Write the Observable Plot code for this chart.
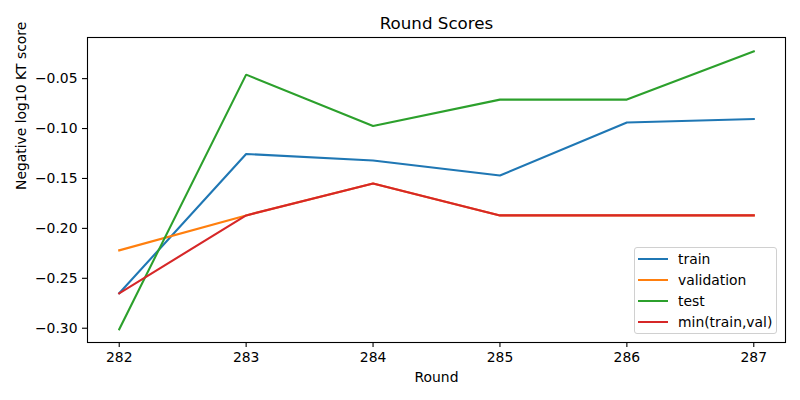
<!DOCTYPE html>
<html>
<head>
<meta charset="utf-8">
<script src="https://cdn.jsdelivr.net/npm/d3@7"></script>
<script src="https://cdn.jsdelivr.net/npm/@observablehq/plot@0.6"></script>
<style>
  html, body { margin: 0; padding: 0; background: #fff; }
  #wrap { position: relative; width: 800px; height: 400px; font-family: "DejaVu Sans", sans-serif; }
  #legend { position: absolute; left: 634px; top: 247px; width: 143px; height: 87px; border: 1px solid #d0d0d0; border-radius: 3px; background: rgba(255,255,255,0.8); box-sizing: border-box; }
  .row { position: absolute; left: 3px; height: 21px; display: flex; align-items: center; font-size: 13.9px; color: #000; white-space: nowrap; }
  .sw { display: inline-block; width: 30px; height: 2px; margin-right: 10px; }
</style>
</head>
<body>
<div id="wrap"></div>
<script>
const rounds = [282, 283, 284, 285, 286, 287];
const train = [-0.265, -0.1255, -0.132, -0.147, -0.094, -0.0905];
const validation = [-0.222, -0.187, -0.155, -0.187, -0.187, -0.187];
const test = [-0.301, -0.046, -0.0975, -0.071, -0.071, -0.0226];
const minTrainVal = [-0.265, -0.187, -0.155, -0.187, -0.187, -0.187];
const seriesNames = ["train", "validation", "test", "min(train,val)"];
const seriesColors = ["#1f77b4", "#ff7f0e", "#2ca02c", "#d62728"];
const yTicks = [-0.30, -0.25, -0.20, -0.15, -0.10, -0.05];

const seriesValues = [train, validation, test, minTrainVal];
const data = [];
seriesNames.forEach((name, i) => {
  rounds.forEach((r, j) => data.push({series: name, round: r, value: seriesValues[i][j]}));
});

const fontSize = "13.9px";
const chart = Plot.plot({
  width: 800,
  height: 400,
  marginLeft: 87,
  marginRight: 15,
  marginTop: 37,
  marginBottom: 58,
  style: {fontFamily: "DejaVu Sans, sans-serif", fontSize: fontSize, background: "white", color: "black"},
  x: {domain: [281.75, 287.25]},
  y: {domain: [-0.3143, -0.0088]},
  color: {domain: seriesNames, range: seriesColors},
  marks: [
    Plot.axisX({ticks: rounds, tickFormat: d => String(d), tickSize: 5, tickPadding: 5, label: null, fontSize: fontSize, strokeWidth: 1.1}),
    Plot.axisY({ticks: yTicks, tickFormat: d3.format(".2f"), tickSize: 5, tickPadding: 5, label: null, fontSize: fontSize, strokeWidth: 1.1}),
    Plot.line(data, {x: "round", y: "value", z: "series", stroke: "series", strokeWidth: 2.1, strokeLinejoin: "miter", strokeLinecap: "square"}),
    Plot.frame({stroke: "black", strokeWidth: 1.1}),
    Plot.text(["Round Scores"], {frameAnchor: "top", dy: -14, lineAnchor: "middle", fontSize: "16.7px"}),
    Plot.text(["Round"], {frameAnchor: "bottom", dy: 35, lineAnchor: "middle", fontSize: fontSize}),
    Plot.text(["Negative log10 KT score"], {frameAnchor: "left", dx: -66, rotate: -90, lineAnchor: "middle", fontSize: fontSize})
  ]
});
const wrap = document.getElementById("wrap");
wrap.appendChild(chart);

const legend = document.createElement("div");
legend.id = "legend";
seriesNames.forEach((name, i) => {
  const row = document.createElement("div");
  row.className = "row";
  row.style.top = (i * 21 + 0.5) + "px";
  const sw = document.createElement("span");
  sw.className = "sw";
  sw.style.background = seriesColors[i];
  row.appendChild(sw);
  row.appendChild(document.createTextNode(name));
  legend.appendChild(row);
});
wrap.appendChild(legend);
</script>
</body>
</html>
